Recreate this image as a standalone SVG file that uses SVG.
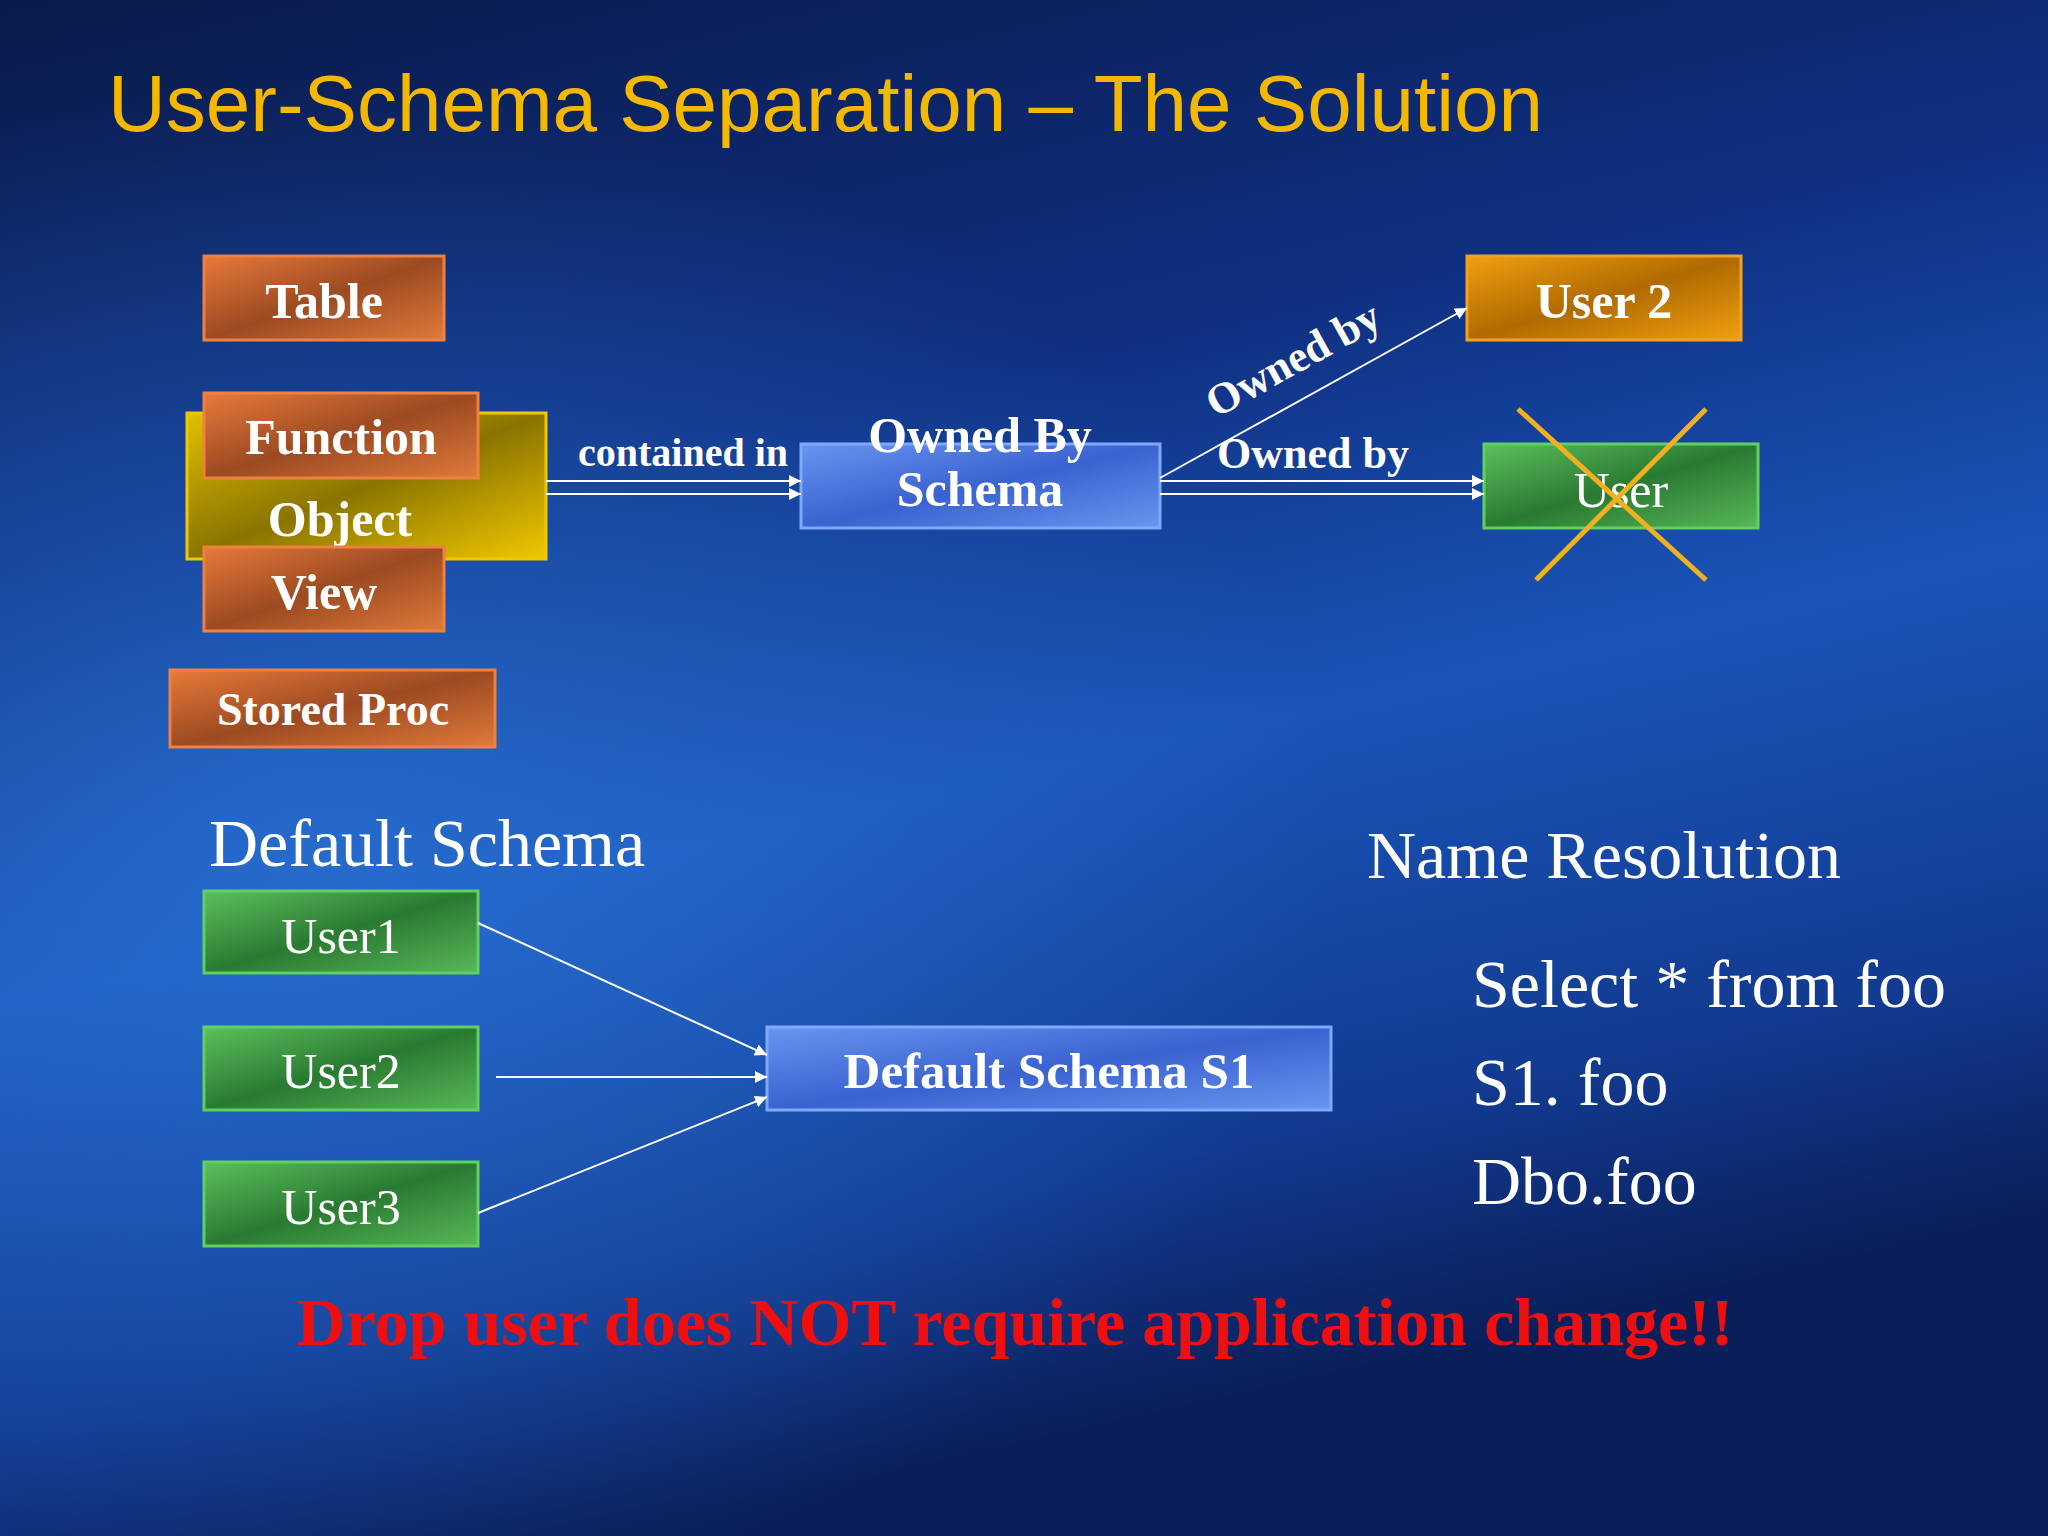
<svg xmlns="http://www.w3.org/2000/svg" width="2048" height="1536" viewBox="0 0 2048 1536">
<defs>
<linearGradient id="bg" x1="0" y1="0" x2="0.3" y2="1">
<stop offset="0" stop-color="#0a1a4a"/><stop offset="0.35" stop-color="#0f2f80"/><stop offset="0.6" stop-color="#1a55b8"/><stop offset="0.85" stop-color="#123a90"/><stop offset="1" stop-color="#0a1f5a"/>
</linearGradient>
<radialGradient id="glow" cx="0.15" cy="0.55" r="0.5"><stop offset="0" stop-color="#2f7de0" stop-opacity="0.6"/><stop offset="1" stop-color="#2f7de0" stop-opacity="0"/></radialGradient>
<linearGradient id="org" x1="0" y1="0" x2="1" y2="1"><stop offset="0" stop-color="#e87a3a"/><stop offset="0.5" stop-color="#9c4a22"/><stop offset="1" stop-color="#e07a3a"/></linearGradient>
<linearGradient id="yel" x1="0" y1="0" x2="1" y2="1"><stop offset="0" stop-color="#e0c000"/><stop offset="0.5" stop-color="#8a7400"/><stop offset="1" stop-color="#f0c800"/></linearGradient>
<linearGradient id="grn" x1="0" y1="0" x2="1" y2="1"><stop offset="0" stop-color="#5cc05c"/><stop offset="0.5" stop-color="#2a7a32"/><stop offset="1" stop-color="#58b858"/></linearGradient>
<linearGradient id="blu" x1="0" y1="0" x2="1" y2="1"><stop offset="0" stop-color="#6a95f0"/><stop offset="0.5" stop-color="#3a62d0"/><stop offset="1" stop-color="#6a95f0"/></linearGradient>
<linearGradient id="gold" x1="0" y1="0" x2="1" y2="1"><stop offset="0" stop-color="#f0a010"/><stop offset="0.5" stop-color="#b06a00"/><stop offset="1" stop-color="#f0a010"/></linearGradient>
<marker id="ah" viewBox="0 0 10 10" refX="10" refY="5" markerWidth="6" markerHeight="6" orient="auto"><path d="M0,0 L10,5 L0,10 z" fill="#fff"/></marker>
</defs>
<style>
.bt{font-family:"Liberation Serif",serif;font-weight:bold;font-size:50px;fill:#fff;text-anchor:middle}
.lt{font-family:"Liberation Serif",serif;font-weight:bold;font-size:40px;fill:#fff}
.ob{font-size:44px}
.nt{font-family:"Liberation Serif",serif;font-size:50px;fill:#fff;text-anchor:middle}
.big{font-family:"Liberation Serif",serif;font-size:68px;fill:#fff}
.ln{stroke:#fff;stroke-width:2;fill:none}
</style>
<rect width="2048" height="1536" fill="url(#bg)"/>
<rect width="2048" height="1536" fill="url(#glow)"/>
<text x="108" y="131" font-family="Liberation Sans, sans-serif" font-size="80" fill="#f5b800">User-Schema Separation – The Solution</text>
<g id="object"><rect x="187" y="413" width="359" height="146" fill="url(#yel)" stroke="#f0c800" stroke-width="3"/><text class="bt" x="340" y="536">Object</text></g>
<g id="table"><rect x="204" y="256" width="240" height="84" fill="url(#org)" stroke="#f08040" stroke-width="3"/><text class="bt" x="324" y="318">Table</text></g>
<g id="function"><rect x="204" y="393" width="274" height="85" fill="url(#org)" stroke="#f08040" stroke-width="3"/><text class="bt" x="341" y="454">Function</text></g>
<g id="view"><rect x="204" y="547" width="240" height="84" fill="url(#org)" stroke="#f08040" stroke-width="3"/><text class="bt" x="324" y="609">View</text></g>
<g id="storedproc"><rect x="170" y="670" width="325" height="77" fill="url(#org)" stroke="#f08040" stroke-width="3"/><text class="bt" x="333" y="725" style="font-size:46px">Stored Proc</text></g>
<g id="schema"><rect x="801" y="444" width="359" height="84" fill="url(#blu)" stroke="#80a8ff" stroke-width="3"/><text class="bt" x="980" y="452">Owned By</text><text class="bt" x="980" y="506">Schema</text></g>
<g id="user2"><rect x="1467" y="256" width="274" height="84" fill="url(#gold)" stroke="#f5a020" stroke-width="3"/><text class="bt" x="1604" y="318">User 2</text></g>
<g id="user"><rect x="1484" y="444" width="274" height="84" fill="url(#grn)" stroke="#60d060" stroke-width="3"/><text class="nt" x="1621" y="507">User</text>
<line x1="1518" y1="409" x2="1706" y2="580" stroke="#f0b020" stroke-width="5"/><line x1="1706" y1="409" x2="1536" y2="580" stroke="#f0b020" stroke-width="5"/></g>
<g id="u1"><rect x="204" y="891" width="274" height="82" fill="url(#grn)" stroke="#60d060" stroke-width="3"/><text class="nt" x="341" y="953">User1</text></g>
<g id="u2"><rect x="204" y="1027" width="274" height="83" fill="url(#grn)" stroke="#60d060" stroke-width="3"/><text class="nt" x="341" y="1088">User2</text></g>
<g id="u3"><rect x="204" y="1162" width="274" height="84" fill="url(#grn)" stroke="#60d060" stroke-width="3"/><text class="nt" x="341" y="1224">User3</text></g>
<g id="s1"><rect x="767" y="1027" width="564" height="83" fill="url(#blu)" stroke="#80a8ff" stroke-width="3"/><text class="bt" x="1049" y="1088" style="font-size:51px">Default Schema S1</text></g>
<g id="connectors">
<line class="ln" x1="546" y1="481" x2="801" y2="481" marker-end="url(#ah)"/>
<line class="ln" x1="546" y1="494" x2="801" y2="494" marker-end="url(#ah)"/>
<line class="ln" x1="1160" y1="481" x2="1484" y2="481" marker-end="url(#ah)"/>
<line class="ln" x1="1160" y1="494" x2="1484" y2="494" marker-end="url(#ah)"/>
<line class="ln" x1="1160" y1="478" x2="1467" y2="308" marker-end="url(#ah)"/>
<line class="ln" x1="478" y1="923" x2="767" y2="1055" marker-end="url(#ah)"/>
<line class="ln" x1="496" y1="1077" x2="767" y2="1077" marker-end="url(#ah)"/>
<line class="ln" x1="478" y1="1213" x2="767" y2="1097" marker-end="url(#ah)"/>
<text class="lt" x="578" y="466">contained in</text>
<text class="lt ob" x="1217" y="468">Owned by</text>
<text class="lt ob" x="1300" y="372" text-anchor="middle" transform="rotate(-29 1300 372)">Owned by</text>
</g>
<text class="big" x="209" y="866">Default Schema</text>
<text class="big" x="1367" y="878">Name Resolution</text>
<text class="big" x="1472" y="1007">Select * from foo</text>
<text class="big" x="1472" y="1105">S1. foo</text>
<text class="big" x="1472" y="1204">Dbo.foo</text>
<text x="1015" y="1345" text-anchor="middle" font-family="Liberation Serif, serif" font-weight="bold" font-size="68" fill="#ee1010">Drop user does NOT require application change!!</text>
</svg>
